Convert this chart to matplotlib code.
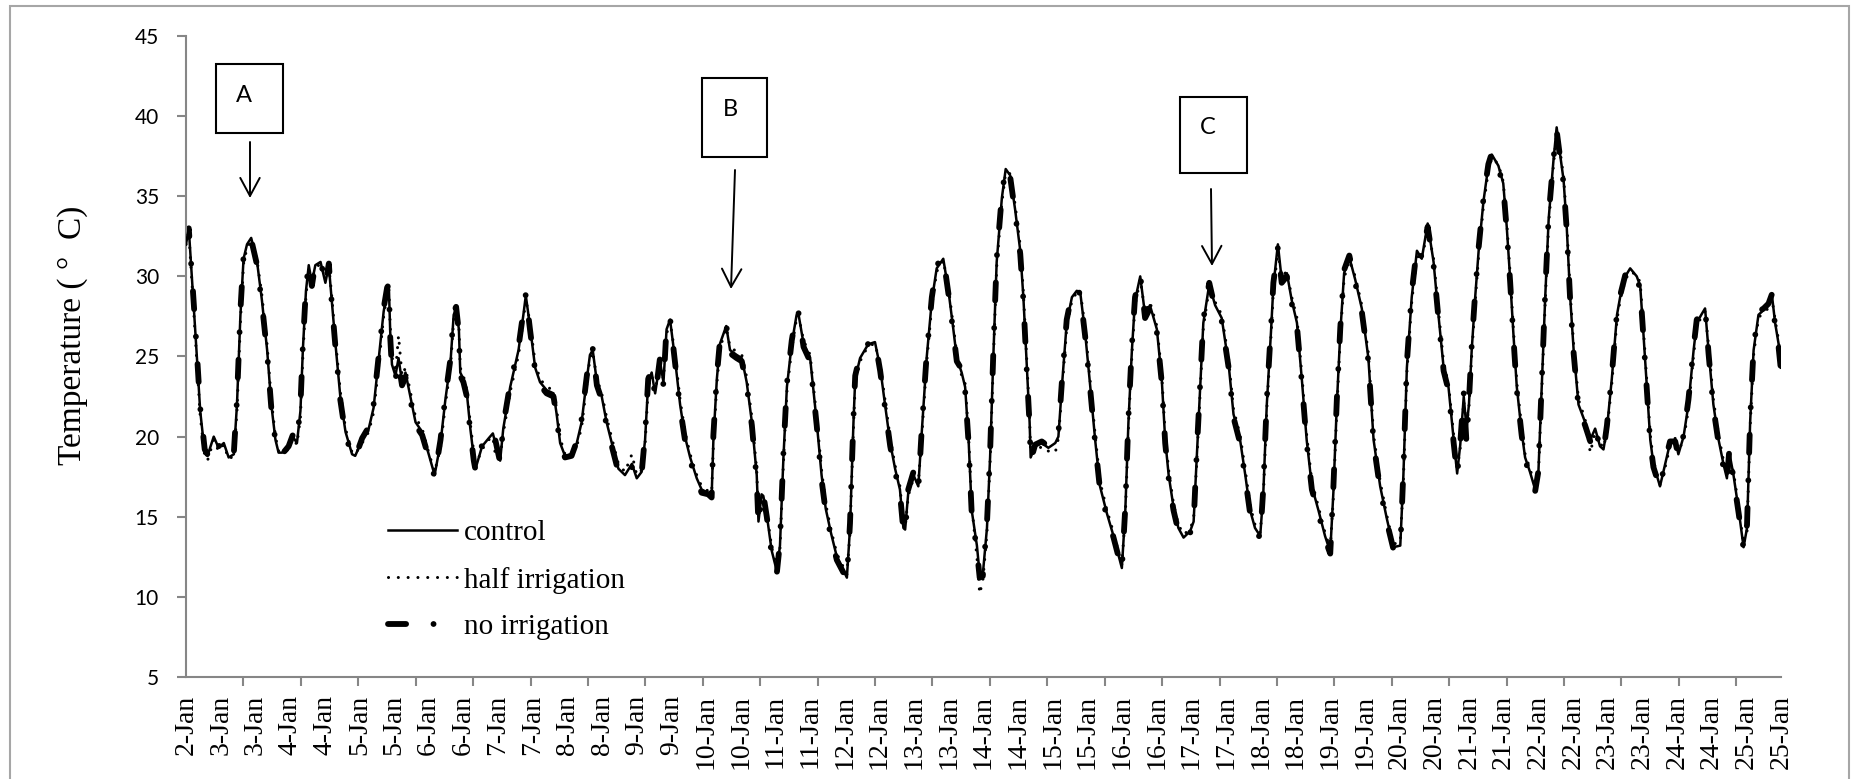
import numpy as np
import matplotlib.pyplot as plt
from matplotlib.patches import Rectangle, FancyArrowPatch, ArrowStyle

# time axis in half-day steps from 2-Jan (one date label every 12 h)
half_days = [
    0.00, 0.08, 0.27, 0.41, 0.54, 0.62, 0.80, 0.94, 1.09, 1.23,
    1.38, 1.47, 1.57, 1.66, 1.76, 1.88, 2.05, 2.19, 2.34, 2.46,
    2.58, 2.67, 2.77, 2.96, 3.08, 3.20, 3.30, 3.37, 3.46, 3.54,
    3.63, 3.73, 3.88, 4.02, 4.12, 4.16, 4.31, 4.45, 4.60, 4.79,
    4.88, 5.08, 5.27, 5.41, 5.56, 5.70, 5.80, 5.85, 5.89, 5.94,
    6.04, 6.13, 6.23, 6.33, 6.47, 6.62, 6.81, 7.00, 7.17, 7.34,
    7.48, 7.63, 7.72, 7.79, 7.87, 7.91, 8.00, 8.10, 8.20, 8.30,
    8.35, 8.54, 8.73, 8.85, 8.92, 9.06, 9.15, 9.35, 9.59, 9.73,
    9.80, 9.92, 10.07, 10.21, 10.40, 10.60, 10.69, 10.79, 10.93, 11.12,
    11.27, 11.41, 11.56, 11.65, 11.73, 11.85, 11.99, 12.13, 12.28, 12.47,
    12.66, 12.86, 13.00, 13.14, 13.24, 13.33, 13.43, 13.53, 13.67, 13.77,
    13.86, 13.96, 14.10, 14.25, 14.39, 14.54, 14.73, 14.87, 15.06, 15.16,
    15.21, 15.31, 15.40, 15.58, 15.69, 15.88, 16.03, 16.17, 16.32, 16.46,
    16.51, 16.60, 16.65, 16.75, 16.89, 17.04, 17.13, 17.23, 17.33, 17.47,
    17.61, 17.66, 17.81, 18.00, 18.19, 18.33, 18.45, 18.60, 18.77, 19.06,
    19.15, 19.25, 19.30, 19.44, 19.63, 19.73, 19.87, 20.02, 20.16, 20.31,
    20.45, 20.59, 20.69, 20.74, 20.83, 20.98, 21.12, 21.22, 21.36, 21.51,
    21.65, 21.84, 21.99, 22.13, 22.23, 22.37, 22.47, 22.57, 22.66, 22.81,
    22.89, 22.98, 23.10, 23.19, 23.29, 23.38, 23.53, 23.64, 23.77, 23.91,
    24.06, 24.15, 24.25, 24.33, 24.36, 24.49, 24.68, 24.87, 25.07, 25.16,
    25.26, 25.40, 25.55, 25.69, 25.79, 25.93, 26.08, 26.22, 26.36, 26.56,
    26.75, 26.99, 27.09, 27.18, 27.28, 27.37, 27.52, 27.66, 27.80, 28.00,
    28.14, 28.24, 28.34, 28.48, 28.62, 28.77, 28.96, 29.06, 29.15, 29.25,
    29.34, 29.51, 29.68, 29.87, 30.07, 30.21, 30.40, 30.55, 30.69, 30.83,
    30.98, 31.07, 31.17, 31.29, 31.36, 31.49, 31.60, 31.75, 31.89, 32.04,
    32.18, 32.32, 32.47, 32.66, 32.85, 33.00, 33.09, 33.19, 33.29, 33.40,
    33.55, 33.72, 33.91, 34.10, 34.25, 34.44, 34.63, 34.82, 35.02, 35.11,
    35.21, 35.35, 35.50, 35.64, 35.81, 35.98, 36.12, 36.27, 36.41, 36.56,
    36.66, 36.75, 36.85, 36.93, 37.00, 37.08, 37.18, 37.28, 37.42, 37.56,
    37.66, 37.85, 37.99, 38.09, 38.19, 38.28, 38.38, 38.52, 38.62, 38.76,
    38.91, 39.00, 39.10, 39.20, 39.30, 39.44, 39.53, 39.63, 39.73, 39.82,
    39.92, 40.02, 40.16, 40.35, 40.50, 40.64, 40.78, 40.88, 40.98, 41.12,
    41.27, 41.36, 41.51, 41.65, 41.84, 41.94, 42.03, 42.13, 42.23, 42.32,
    42.51, 42.66, 42.80, 42.95, 43.04, 43.19, 43.33, 43.48, 43.57, 43.70,
    43.81, 43.91, 44.05, 44.20, 44.34, 44.44, 44.51, 44.63, 44.78, 44.92,
    45.02, 45.11, 45.21, 45.35, 45.50, 45.64, 45.74, 45.83, 45.93, 46.00,
]

control = [
    32.0, 33.0, 26.5, 21.6, 19.0, 18.8, 20.0, 19.3, 19.6, 18.7,
    18.9, 22.0, 27.6, 31.1, 32.0, 32.4, 30.9, 28.5, 25.4, 22.0,
    19.8, 19.0, 19.0, 19.3, 20.0, 19.6, 21.6, 25.4, 29.1, 30.7,
    29.6, 30.7, 30.9, 29.6, 30.7, 29.6, 25.8, 22.5, 20.3, 18.9,
    18.8, 19.8, 20.5, 21.8, 24.9, 27.8, 29.1, 29.4, 26.5, 24.5,
    23.8, 24.9, 23.4, 24.0, 22.5, 20.9, 20.3, 18.9, 17.6, 19.6,
    22.3, 24.7, 27.6, 28.0, 26.7, 24.0, 23.6, 22.7, 20.5, 18.7,
    18.0, 19.4, 19.9, 20.2, 19.6, 18.5, 20.5, 23.1, 25.4, 27.6,
    28.8, 26.9, 24.3, 23.4, 22.9, 22.7, 21.4, 19.6, 18.8, 18.9,
    19.6, 20.9, 23.6, 25.1, 25.4, 23.4, 22.5, 20.9, 19.6, 18.0,
    17.6, 18.3, 17.4, 17.8, 19.8, 23.4, 24.0, 22.7, 24.7, 23.4,
    26.7, 27.3, 24.9, 22.0, 20.0, 18.7, 17.4, 16.7, 16.5, 16.3,
    19.8, 23.6, 25.8, 26.9, 25.4, 25.1, 24.9, 23.4, 20.9, 17.6,
    14.7, 16.4, 16.3, 15.1, 12.9, 11.6, 13.2, 18.7, 23.1, 25.8,
    27.6, 27.7, 25.8, 24.9, 20.9, 17.6, 15.5, 14.0, 12.5, 11.2,
    14.3, 20.9, 23.6, 24.9, 25.6, 25.8, 25.9, 24.3, 22.0, 19.6,
    18.0, 16.7, 14.3, 14.2, 16.5, 17.6, 16.9, 20.3, 24.9, 28.5,
    30.5, 31.1, 29.1, 26.7, 24.9, 24.0, 23.1, 19.8, 15.4, 13.2,
    11.4, 11.4, 14.3, 18.7, 25.4, 30.9, 34.9, 36.7, 36.3, 34.2,
    31.6, 28.7, 24.3, 20.9, 18.7, 19.4, 19.6, 19.3, 19.6, 20.0,
    23.1, 27.1, 28.7, 29.1, 29.0, 26.5, 23.1, 19.8, 16.9, 15.2,
    13.8, 11.8, 15.4, 20.9, 25.4, 28.5, 30.0, 27.6, 28.2, 26.7,
    23.6, 19.8, 17.6, 15.6, 14.3, 13.7, 14.1, 14.7, 18.7, 23.1,
    27.1, 29.5, 28.2, 27.4, 24.5, 21.4, 19.8, 17.6, 15.4, 14.3,
    13.8, 16.5, 22.0, 26.5, 29.4, 32.0, 29.8, 30.2, 28.5, 27.1,
    23.6, 19.8, 16.9, 15.4, 13.8, 12.8, 16.5, 22.0, 26.5, 30.2,
    31.2, 29.8, 28.0, 24.9, 19.8, 16.9, 14.9, 13.1, 13.2, 17.6,
    24.3, 28.7, 31.6, 31.1, 33.3, 30.9, 27.6, 24.3, 23.1, 19.8,
    17.7, 19.5, 22.5, 20.5, 22.0, 25.4, 28.7, 31.6, 34.7, 36.9,
    37.6, 36.9, 35.8, 33.1, 29.8, 26.5, 23.1, 20.3, 18.7, 17.8,
    16.7, 17.6, 23.1, 28.7, 33.6, 37.3, 39.3, 37.6, 36.0, 33.1,
    28.7, 25.4, 22.0, 20.9, 19.8, 20.5, 19.4, 19.2, 20.5, 23.6,
    27.6, 28.7, 30.0, 30.5, 30.0, 29.4, 26.5, 23.1, 19.8, 18.3,
    16.9, 18.3, 19.6, 19.8, 18.9, 20.0, 22.0, 25.4, 27.1, 27.6,
    28.0, 25.4, 22.0, 19.8, 18.3, 17.4, 19.0, 17.6, 15.4, 13.1,
    14.3, 20.9, 25.4, 27.6, 27.9, 28.2, 28.8, 27.1, 25.8, 24.3,
]

half_irrigation = [
    32.0, 32.8, 26.2, 21.3, 18.8, 18.5, 19.8, 19.1, 19.5, 18.6,
    18.8, 21.6, 27.2, 30.8, 31.8, 32.2, 31.0, 28.8, 25.7, 22.3,
    20.0, 19.1, 19.0, 19.2, 19.9, 19.5, 21.2, 25.0, 28.8, 30.5,
    29.8, 30.5, 30.8, 29.8, 30.5, 29.8, 26.1, 22.8, 20.5, 19.0,
    18.9, 19.6, 20.3, 21.5, 24.5, 27.5, 28.9, 29.2, 26.9, 25.0,
    24.0, 26.3, 23.8, 24.3, 22.8, 21.2, 20.5, 19.0, 17.8, 19.3,
    22.0, 24.4, 27.3, 27.9, 26.9, 24.3, 23.8, 22.9, 20.8, 19.0,
    18.2, 19.2, 19.8, 20.0, 18.9, 18.7, 20.2, 22.8, 25.1, 27.3,
    28.6, 27.1, 24.6, 23.6, 23.1, 22.9, 21.7, 19.9, 18.9, 19.0,
    19.4, 20.6, 23.3, 24.9, 25.3, 23.6, 22.7, 21.2, 19.9, 18.3,
    17.8, 18.9, 17.6, 17.9, 19.5, 23.1, 23.8, 22.9, 24.4, 23.6,
    26.4, 27.2, 25.2, 22.3, 20.3, 18.9, 17.6, 16.9, 16.6, 16.5,
    19.5, 23.3, 25.5, 26.8, 25.6, 25.3, 25.1, 23.7, 21.2, 17.9,
    15.0, 16.2, 16.1, 15.3, 13.1, 11.8, 13.0, 18.4, 22.8, 25.5,
    27.4, 27.6, 26.0, 25.1, 21.2, 17.9, 15.8, 14.2, 12.7, 11.4,
    14.0, 20.6, 23.3, 24.7, 25.5, 25.7, 25.8, 24.5, 22.3, 19.9,
    18.2, 16.9, 14.5, 14.3, 16.3, 17.4, 17.1, 20.0, 24.6, 28.2,
    30.3, 31.0, 29.3, 26.9, 25.1, 23.8, 23.3, 20.1, 15.7, 12.5,
    10.2, 11.0, 14.0, 18.4, 25.1, 30.6, 34.6, 36.5, 36.4, 34.5,
    31.9, 29.0, 24.6, 21.2, 18.9, 19.0, 19.4, 19.1, 19.0, 19.9,
    22.8, 26.8, 28.5, 29.0, 29.1, 26.8, 23.4, 20.1, 17.2, 15.4,
    14.0, 12.0, 15.1, 20.6, 25.1, 28.2, 29.8, 27.8, 28.4, 26.9,
    23.9, 20.1, 17.9, 15.8, 14.5, 13.9, 14.2, 14.9, 18.4, 22.8,
    26.8, 29.3, 28.4, 27.6, 24.8, 21.7, 20.1, 17.9, 15.7, 14.5,
    14.0, 16.2, 21.7, 26.2, 29.1, 31.6, 30.0, 30.3, 28.7, 27.4,
    23.9, 20.1, 17.2, 15.6, 14.0, 13.0, 16.2, 21.7, 26.2, 29.9,
    31.0, 30.0, 28.2, 25.2, 20.1, 17.2, 15.1, 13.3, 13.4, 17.3,
    24.0, 28.4, 31.3, 31.0, 33.0, 31.1, 27.9, 24.6, 23.3, 20.1,
    17.9, 19.3, 22.2, 20.8, 21.8, 25.1, 28.4, 31.3, 34.4, 36.6,
    37.4, 37.0, 35.9, 33.4, 30.1, 26.8, 23.4, 20.6, 18.9, 18.0,
    16.9, 17.4, 22.8, 28.4, 33.3, 37.0, 38.9, 37.8, 36.2, 33.4,
    29.0, 25.7, 22.3, 21.1, 19.0, 20.3, 19.6, 19.3, 20.3, 23.3,
    27.3, 28.5, 29.8, 30.3, 30.1, 29.6, 26.8, 23.4, 20.1, 18.5,
    17.0, 18.1, 19.4, 19.9, 19.1, 19.8, 21.7, 25.1, 26.8, 27.5,
    27.8, 25.7, 22.3, 20.1, 18.5, 17.6, 18.7, 17.8, 15.6, 13.3,
    14.1, 20.6, 25.1, 27.4, 27.8, 28.0, 28.6, 27.3, 26.0, 24.5,
]

no_irrigation = [
    32.4, 33.0, 26.8, 21.8, 19.2, 18.9, 19.9, 19.4, 19.6, 18.8,
    19.0, 22.3, 27.9, 31.3, 32.1, 32.3, 30.7, 28.3, 25.2, 21.8,
    19.7, 18.9, 18.9, 19.4, 20.1, 19.7, 21.9, 25.7, 29.3, 30.8,
    29.4, 30.8, 31.0, 29.5, 30.8, 29.5, 25.6, 22.3, 20.1, 18.8,
    18.7, 19.9, 20.6, 22.0, 25.1, 28.0, 29.3, 29.5, 26.2, 24.2,
    23.6, 24.6, 23.2, 23.7, 22.3, 20.7, 20.1, 18.7, 17.5, 19.8,
    22.5, 24.9, 27.8, 28.1, 26.5, 23.8, 23.4, 22.5, 20.3, 18.5,
    17.9, 19.5, 20.0, 20.3, 19.8, 18.4, 20.7, 23.3, 25.6, 27.8,
    28.9, 26.7, 24.1, 23.2, 22.7, 22.5, 21.2, 19.4, 18.7, 18.8,
    19.7, 21.1, 23.8, 25.3, 25.5, 23.2, 22.3, 20.7, 19.4, 17.8,
    17.5, 18.1, 17.3, 17.7, 20.1, 23.6, 24.2, 22.5, 24.9, 23.2,
    26.9, 27.4, 24.7, 21.8, 19.8, 18.5, 17.2, 16.5, 16.4, 16.2,
    20.1, 23.8, 26.0, 27.0, 25.2, 24.9, 24.7, 23.2, 20.7, 17.3,
    14.5, 16.5, 16.4, 15.0, 12.7, 11.5, 13.4, 19.0, 23.3, 26.0,
    27.8, 27.8, 25.6, 24.7, 20.7, 17.3, 15.3, 13.8, 12.3, 11.1,
    14.6, 21.2, 23.8, 25.1, 25.7, 25.9, 26.0, 24.1, 21.8, 19.4,
    17.8, 16.5, 14.1, 14.0, 16.7, 17.8, 16.7, 20.5, 25.1, 28.7,
    30.7, 31.2, 28.9, 26.5, 24.7, 24.2, 22.9, 19.6, 15.2, 12.9,
    11.2, 11.3, 14.6, 19.0, 25.7, 31.1, 35.1, 36.8, 36.2, 34.0,
    31.4, 28.5, 24.0, 20.7, 18.5, 19.5, 19.7, 19.4, 19.7, 20.2,
    23.4, 27.3, 28.9, 29.2, 28.9, 26.3, 22.9, 19.6, 16.7, 15.0,
    13.7, 11.7, 15.6, 21.2, 25.7, 28.7, 30.1, 27.4, 28.0, 26.5,
    23.4, 19.6, 17.4, 15.4, 14.1, 13.6, 14.0, 14.6, 19.0, 23.4,
    27.3, 29.6, 28.0, 27.2, 24.3, 21.2, 19.6, 17.4, 15.2, 14.1,
    13.7, 16.8, 22.3, 26.8, 29.6, 31.8, 29.6, 30.0, 28.3, 26.9,
    23.4, 19.6, 16.7, 15.2, 13.6, 12.7, 16.8, 22.3, 26.8, 30.4,
    31.3, 29.6, 27.8, 24.7, 19.6, 16.7, 14.7, 13.0, 13.0, 17.9,
    24.6, 29.0, 31.8, 31.2, 33.1, 30.7, 27.4, 24.1, 22.9, 19.6,
    17.6, 19.6, 22.7, 19.6, 22.2, 25.7, 29.0, 31.8, 34.9, 37.0,
    37.7, 36.8, 35.6, 32.9, 29.6, 26.3, 22.9, 20.1, 18.5, 17.7,
    16.6, 17.8, 23.4, 29.0, 33.8, 37.4, 39.1, 37.4, 35.8, 32.9,
    28.5, 25.2, 21.8, 20.7, 19.7, 20.6, 19.3, 19.1, 20.7, 23.8,
    27.8, 28.8, 30.1, 30.5, 29.9, 29.2, 26.3, 22.9, 19.6, 18.1,
    16.8, 18.5, 19.7, 19.7, 18.8, 20.1, 22.3, 25.6, 27.3, 27.7,
    28.1, 25.2, 21.8, 19.6, 18.1, 17.2, 19.2, 17.4, 15.2, 13.0,
    14.5, 21.1, 25.6, 27.8, 28.0, 28.3, 28.9, 26.9, 25.6, 24.1,
]

date_labels = [
    '2-Jan', '3-Jan', '3-Jan', '4-Jan', '4-Jan', '5-Jan', '5-Jan', '6-Jan',
    '6-Jan', '7-Jan', '7-Jan', '8-Jan', '8-Jan', '9-Jan', '9-Jan', '10-Jan',
    '10-Jan', '11-Jan', '11-Jan', '12-Jan', '12-Jan', '13-Jan', '13-Jan',
    '14-Jan', '14-Jan', '15-Jan', '15-Jan', '16-Jan', '16-Jan', '17-Jan',
    '17-Jan', '18-Jan', '18-Jan', '19-Jan', '19-Jan', '20-Jan', '20-Jan',
    '21-Jan', '21-Jan', '22-Jan', '22-Jan', '23-Jan', '23-Jan', '24-Jan',
    '24-Jan', '25-Jan', '25-Jan',
]
temp_ticks = [5, 10, 15, 20, 25, 30, 35, 40, 45]

# boxed event markers: label, box (left, top, right, bottom), arrow start/end (pixels)
markers = [
    ('A', (216, 64, 283, 133), (250, 142), (250, 198)),
    ('B', (702, 78, 767, 157), (735, 170), (731, 289)),
    ('C', (1180, 97, 1247, 173), (1211, 189), (1212, 266)),
]

plt.rcParams['font.family'] = 'Lato'
SERIF = 'Liberation Serif'
GREY = '#868686'

W, H = 1856, 779
fig = plt.figure(figsize=(W / 100, H / 100), dpi=100)


def fx(px):
    return px / W


def fy(py):
    return 1 - py / H


ax = fig.add_axes([fx(186), fy(677), fx(1781) - fx(186), fy(36) - fy(677)])

l_no, = ax.plot(half_days, no_irrigation, color='black', lw=4.2,
                dashes=(3.1, 4.7, 0.01, 4.7), dash_capstyle='round',
                label='no irrigation', zorder=2)
l_half, = ax.plot(half_days, half_irrigation, color='black', lw=2.2,
                  dashes=(0.01, 3.2), dash_capstyle='round',
                  label='half irrigation', zorder=3)
l_ctrl, = ax.plot(half_days, control, color='black', lw=1.8,
                  label='control', zorder=4)

ax.set_xlim(0, 46)
ax.set_ylim(5, 45)
for s in ['top', 'right']:
    ax.spines[s].set_visible(False)
for s in ['left', 'bottom']:
    ax.spines[s].set_color(GREY)
    ax.spines[s].set_linewidth(1.5)

ax.set_yticks(temp_ticks)
ax.tick_params(axis='y', length=6.5, width=1.5, color=GREY, pad=13,
               labelsize=15)

ax.set_xticks(range(len(date_labels)))
ax.set_xticklabels(date_labels, rotation=90, fontfamily=SERIF, fontsize=20)
ax.tick_params(axis='x', which='major', length=0, pad=13)
ax.set_xticks(np.arange(0, 46, 1.656), minor=True)
ax.tick_params(axis='x', which='minor', length=6.5, width=1.5, color=GREY)

fig.text(fx(73), fy(335), 'Temperature ( °  C)', rotation=90, ha='center',
         va='center', fontfamily=SERIF, fontsize=24)

ax.legend(handles=[l_ctrl, l_half, l_no], loc='upper left',
          bbox_to_anchor=(fx(388), fy(520)), bbox_transform=fig.transFigure,
          frameon=False, prop={'family': SERIF, 'size': 21},
          handlelength=2.35, handletextpad=0.25, labelspacing=0.69,
          borderpad=0, borderaxespad=0)

for name, (x0, y0, x1, y1), start, end in markers:
    fig.add_artist(Rectangle((fx(x0), fy(y1)), fx(x1) - fx(x0), fy(y0) - fy(y1),
                             transform=fig.transFigure, fill=False,
                             edgecolor='black', lw=1.5))
    fig.text(fx(x0 + 28), fy(y0 + 31), name, ha='center', va='center',
             fontsize=17)
    fig.add_artist(FancyArrowPatch((fx(start[0]), fy(start[1])),
                                   (fx(end[0]), fy(end[1])),
                                   transform=fig.transFigure,
                                   arrowstyle=ArrowStyle('->', head_length=13,
                                                         head_width=7),
                                   mutation_scale=1, lw=1.4, color='black',
                                   shrinkA=0, shrinkB=0))

# outer frame round the whole chart
fig.add_artist(Rectangle((fx(10), fy(800)), fx(1849) - fx(10), fy(6) - fy(800),
                         transform=fig.transFigure, fill=False,
                         edgecolor='#a6a6a6', lw=1.5, clip_on=False))

fig.savefig('out.png', dpi=100)
